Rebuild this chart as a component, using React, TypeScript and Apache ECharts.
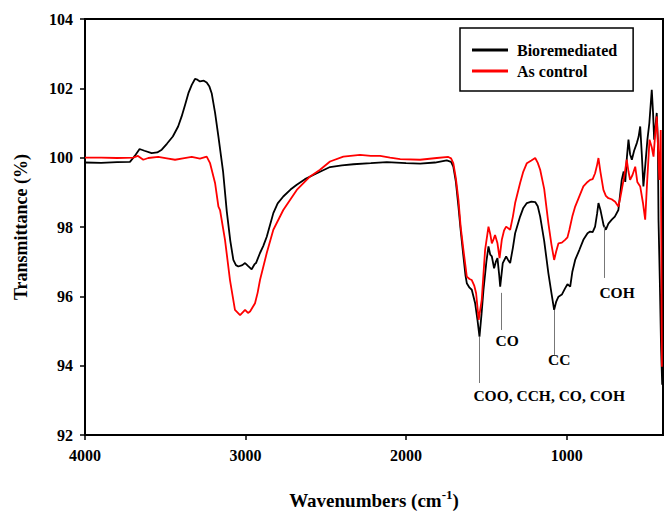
import React, { useEffect, useRef } from "react";
import * as echarts from "echarts";

const FONT = "'Liberation Serif', 'Times New Roman', serif";

const xTicks = [4000, 3000, 2000, 1000];

const bioX = [4000, 3900, 3800, 3720, 3690, 3660, 3630, 3585, 3550, 3522, 3490, 3453, 3420, 3398, 3375, 3356, 3335, 3315, 3300, 3284, 3260, 3242, 3225, 3211, 3190, 3169, 3140, 3117, 3095, 3076, 3060, 3045, 3020, 3003, 2985, 2962, 2945, 2935, 2910, 2890, 2868, 2845, 2827, 2800, 2765, 2720, 2681, 2630, 2578, 2520, 2474, 2400, 2328, 2220, 2120, 2000, 1913, 1820, 1747, 1720, 1706, 1690, 1674, 1660, 1643, 1630, 1622, 1605, 1591, 1570, 1555, 1543, 1530, 1518, 1500, 1487, 1476, 1466, 1452, 1441, 1431, 1420, 1414, 1398, 1377, 1365, 1352, 1335, 1321, 1290, 1270, 1248, 1220, 1196, 1180, 1165, 1140, 1114, 1095, 1078, 1065, 1051, 1030, 1010, 995, 978, 965, 947, 920, 896, 870, 854, 838, 823, 810, 802, 790, 781, 770, 756, 740, 719, 700, 678, 668, 657, 645, 635, 625, 615, 605, 594, 580, 563, 552, 542, 532, 522, 510, 497, 485, 470, 462, 455, 447, 439, 432, 428, 420, 412, 405];
const bioY = [99.86, 99.85, 99.87, 99.88, 100.05, 100.25, 100.2, 100.13, 100.15, 100.23, 100.4, 100.61, 100.9, 101.19, 101.55, 101.86, 102.1, 102.27, 102.25, 102.2, 102.22, 102.17, 102.05, 101.86, 101.3, 100.61, 99.6, 98.45, 97.6, 97.05, 96.9, 96.86, 96.9, 96.96, 96.88, 96.78, 96.92, 96.96, 97.25, 97.45, 97.72, 98.1, 98.4, 98.68, 98.88, 99.08, 99.22, 99.38, 99.5, 99.63, 99.73, 99.78, 99.81, 99.84, 99.87, 99.84, 99.83, 99.86, 99.92, 99.88, 99.74, 99.3, 98.59, 97.9, 97.15, 96.6, 96.38, 96.25, 96.19, 95.8, 95.3, 94.84, 95.5, 96.19, 97.0, 97.44, 97.2, 97.15, 96.81, 97.0, 97.1, 96.6, 96.28, 96.96, 97.15, 97.05, 96.96, 97.4, 97.82, 98.3, 98.55, 98.69, 98.73, 98.72, 98.6, 98.3, 97.6, 96.67, 96.1, 95.61, 95.85, 95.99, 96.05, 96.23, 96.35, 96.28, 96.7, 97.05, 97.35, 97.63, 97.82, 97.87, 97.85, 98.01, 98.4, 98.69, 98.5, 98.3, 98.05, 97.92, 98.1, 98.21, 98.3, 98.49, 98.9, 99.36, 99.6, 99.3, 100.0, 100.52, 100.1, 99.94, 100.2, 100.42, 100.6, 100.9, 100.1, 99.17, 99.8, 100.52, 101.0, 101.96, 101.3, 100.52, 100.9, 101.29, 100.5, 98.21, 96.5, 94.5, 93.45];

const ctrlX = [4000, 3900, 3800, 3700, 3670, 3637, 3606, 3544, 3490, 3439, 3390, 3335, 3284, 3242, 3221, 3190, 3169, 3159, 3128, 3097, 3066, 3034, 3003, 2985, 2972, 2941, 2925, 2910, 2868, 2827, 2765, 2681, 2598, 2536, 2474, 2391, 2287, 2220, 2162, 2100, 2037, 1913, 1809, 1737, 1720, 1706, 1690, 1674, 1660, 1643, 1622, 1605, 1591, 1575, 1564, 1548, 1529, 1508, 1487, 1476, 1466, 1455, 1446, 1431, 1418, 1404, 1390, 1377, 1352, 1335, 1321, 1290, 1270, 1248, 1220, 1196, 1180, 1165, 1140, 1114, 1095, 1078, 1065, 1051, 1030, 1010, 995, 983, 965, 947, 920, 896, 870, 854, 838, 823, 810, 802, 790, 771, 756, 740, 720, 698, 678, 668, 657, 640, 626, 615, 605, 590, 573, 560, 542, 525, 511, 500, 484, 470, 459, 450, 439, 430, 423, 418, 414, 410, 407];
const ctrlY = [100.0, 100.0, 99.99, 100.0, 100.05, 99.94, 99.99, 100.02, 99.98, 99.94, 99.98, 100.02, 99.97, 100.03, 99.84, 99.27, 98.59, 98.49, 97.63, 96.47, 95.61, 95.46, 95.61, 95.52, 95.56, 95.8, 96.1, 96.47, 97.25, 97.92, 98.49, 99.07, 99.46, 99.65, 99.89, 100.03, 100.08, 100.05, 100.05, 100.0, 99.96, 99.94, 99.99, 100.02, 99.98, 99.84, 99.4, 98.78, 98.0, 97.34, 96.57, 96.5, 96.47, 96.3, 96.09, 95.32, 95.9, 97.34, 98.01, 97.8, 97.53, 97.65, 97.77, 97.53, 97.1, 97.63, 97.9, 98.01, 97.92, 98.3, 98.69, 99.27, 99.6, 99.84, 99.92, 99.99, 99.85, 99.65, 99.1, 98.11, 97.5, 97.05, 97.3, 97.53, 97.55, 97.63, 97.7, 97.92, 98.3, 98.59, 98.9, 99.17, 99.3, 99.36, 99.38, 99.55, 99.8, 99.99, 99.6, 99.07, 98.9, 98.83, 98.8, 98.73, 98.59, 98.8, 99.07, 99.5, 99.94, 99.6, 99.36, 99.5, 99.74, 99.3, 99.17, 98.7, 98.21, 99.2, 100.52, 100.3, 100.03, 100.6, 101.19, 100.2, 99.36, 100.2, 100.8, 97.0, 93.97];

// annotation leader lines: wavenumber, top value, bottom value
const annLineX = [1545, 1408, 1078, 766];
const annLineTop = [94.83, 96.1, 95.61, 98.01];
const annLineBottom = [93.5, 95.03, 94.31, 96.53];
// annotation labels
const annText = ["COO, CCH, CO, COH", "CO", "CC", "COH"];
const annTextX = [1109, 1371, 1047, 686];
const annTextY = [93.15, 94.72, 94.19, 96.1];

export default function App() {
  const ref = useRef<HTMLDivElement>(null);
  useEffect(() => {
    if (!ref.current) return;
    const chart = echarts.init(ref.current, null, { renderer: "svg" });
    const bio = bioX.map((x, i) => [x, bioY[i]]);
    const ctrl = ctrlX.map((x, i) => [x, ctrlY[i]]);
    const labels = annText.map((t, i) => [annTextX[i], annTextY[i], t]);
    const leaders = annLineX.map((x, i) => [
      { coord: [x, annLineTop[i]] },
      { coord: [x, annLineBottom[i]] },
    ]);
    chart.setOption({
      animation: false,
      backgroundColor: "#fff",
      grid: {
        left: 85,
        right: 2,
        top: 19,
        bottom: 78,
        outerBoundsMode: "none",
        containLabel: false,
        show: true,
        borderColor: "#000",
        borderWidth: 2,
        backgroundColor: "transparent",
      },
      legend: {
        data: ["Bioremediated", "As control"],
        orient: "vertical",
        left: 460,
        top: 28,
        icon: "rect",
        itemWidth: 36,
        itemHeight: 3,
        itemGap: 5,
        padding: [14, 16, 12, 12],
        borderColor: "#000",
        borderWidth: 1.5,
        textStyle: {
          fontFamily: FONT,
          fontWeight: "bold",
          fontSize: 16,
          lineHeight: 16,
          color: "#000",
          padding: [0, 0, 0, 4],
        },
      },
      xAxis: {
        type: "value",
        inverse: true,
        min: 400,
        max: 4000,
        name: "{b|Wavenumbers (cm}{s|-1}{b|)}",
        nameLocation: "middle",
        nameGap: 53,
        nameTextStyle: {
          rich: {
            b: { fontFamily: FONT, fontWeight: "bold", fontSize: 19, color: "#000" },
            s: {
              fontFamily: FONT,
              fontWeight: "bold",
              fontSize: 13,
              color: "#000",
              padding: [0, 0, 12, 0],
            },
          },
        },
        axisLine: { show: true, lineStyle: { color: "#000", width: 2 } },
        axisTick: {
          show: true,
          length: 5,
          lineStyle: { color: "#000", width: 1.5 },
          customValues: xTicks,
        },
        axisLabel: {
          customValues: xTicks,
          formatter: (v: number) => String(v),
          fontFamily: FONT,
          fontWeight: "bold",
          fontSize: 16,
          color: "#000",
          margin: 12,
        },
        splitLine: { show: false },
      },
      yAxis: {
        type: "value",
        min: 92,
        max: 104,
        interval: 2,
        name: "Transmittance (%)",
        nameLocation: "middle",
        nameGap: 55,
        nameTextStyle: { fontFamily: FONT, fontWeight: "bold", fontSize: 18, color: "#000" },
        axisLine: { show: true, lineStyle: { color: "#000", width: 2 } },
        axisTick: { show: true, length: 5, lineStyle: { color: "#000", width: 1.5 } },
        axisLabel: {
          fontFamily: FONT,
          fontWeight: "bold",
          fontSize: 16,
          color: "#000",
          margin: 12,
        },
        splitLine: { show: false },
      },
      series: [
        {
          name: "Bioremediated",
          type: "line",
          data: bio,
          showSymbol: false,
          color: "#000",
          lineStyle: { color: "#000", width: 1.8 },
          z: 2,
        },
        {
          name: "As control",
          type: "line",
          data: ctrl,
          showSymbol: false,
          color: "#ff0000",
          lineStyle: { color: "#ff0000", width: 1.8 },
          z: 3,
        },
        {
          name: "annotations",
          type: "scatter",
          data: labels,
          symbolSize: 0,
          silent: true,
          itemStyle: { opacity: 1 },
          label: {
            show: true,
            position: "inside",
            formatter: (p: any) => p.data[2],
            fontFamily: FONT,
            fontWeight: "bold",
            fontSize: 15.5,
            color: "#000",
            opacity: 1,
          },
          markLine: {
            silent: true,
            symbol: "none",
            label: { show: false },
            lineStyle: { color: "#777", width: 1, type: "solid", opacity: 1 },
            data: leaders,
          },
          z: 4,
        },
      ],
    });
    return () => chart.dispose();
  }, []);
  return <div ref={ref} style={{ width: 665, height: 513, position: "absolute", left: 0, top: 0 }} />;
}
